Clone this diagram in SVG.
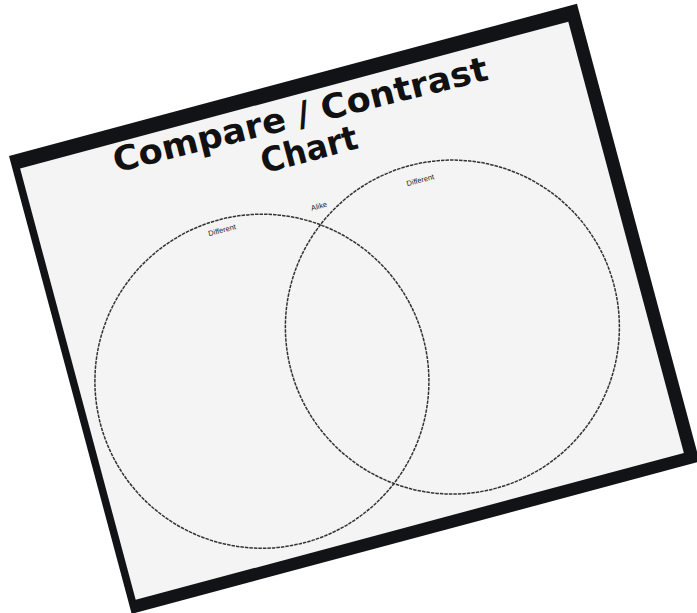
<svg xmlns="http://www.w3.org/2000/svg" width="697" height="613" viewBox="0 0 697 613">
<style>
.frame{fill:#121316}
.paper{fill:#f4f4f4}
.ring{fill:none;stroke:#333333;stroke-width:1.5;stroke-dasharray:3.5 1}
.title{font-family:"DejaVu Sans",sans-serif;font-weight:bold;font-size:34px;fill:#111;text-anchor:middle}
.lbl{font-family:"Liberation Sans",sans-serif;font-size:7.5px;fill:#222;text-anchor:middle}
</style>
<rect width="697" height="613" fill="#ffffff"/>
<g transform="translate(9,156) rotate(-15)">
  <g id="sheet">
    <rect class="frame" x="0" y="0" width="588" height="474"/>
    <rect class="paper" x="7.5" y="15" width="567.5" height="446.5"/>
  </g>
  <g id="title">
    <text class="title" x="292" y="47" textLength="385" lengthAdjust="spacingAndGlyphs" transform="rotate(1,292,34)">Compare / Contrast</text>
    <text class="title" x="291.5" y="83" textLength="99" lengthAdjust="spacingAndGlyphs">Chart</text>
  </g>
  <g id="connectors"></g>
  <g id="left-set">
    <circle class="ring" cx="186" cy="283" r="167"/>
    <text class="lbl" x="186.6" y="129.3">Different</text>
  </g>
  <g id="right-set">
    <circle class="ring" cx="384" cy="280" r="167"/>
    <text class="lbl" x="391" y="132.3">Different</text>
  </g>
  <g id="alike">
    <text class="lbl" x="286.5" y="131.2">Alike</text>
  </g>
</g>
</svg>
